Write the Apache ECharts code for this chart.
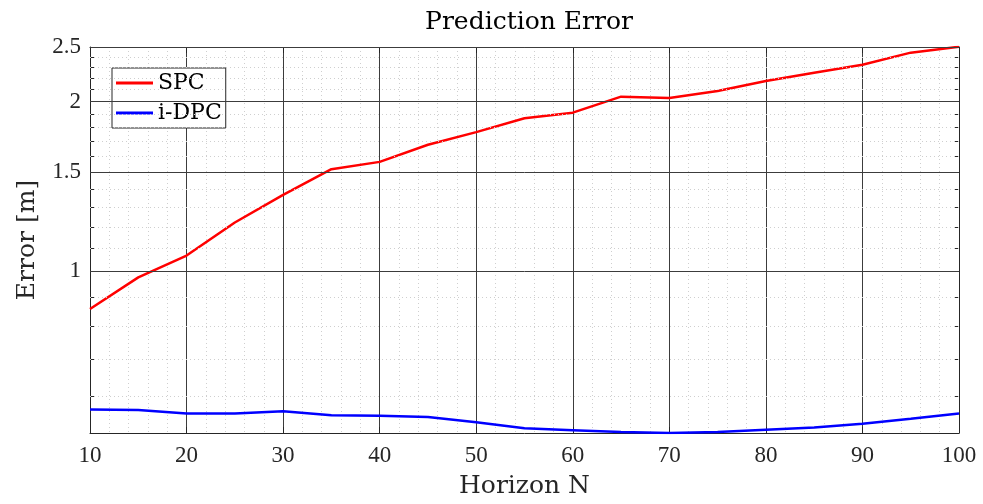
<!DOCTYPE html>
<html>
<head>
<meta charset="utf-8">
<script src="https://cdn.jsdelivr.net/npm/echarts@6/dist/echarts.min.js"></script>
<style>html,body{margin:0;padding:0;background:#fff}#c{width:983px;height:504px}</style>
</head>
<body>
<div id="c"></div>
<script>
const horizon = [10,15,20,25,30,35,40,45,50,55,60,65,70,75,80,85,90,95,100];
const spc  = [0.858,0.976,1.067,1.221,1.367,1.518,1.564,1.677,1.766,1.869,1.912,2.041,2.030,2.089,2.176,2.251,2.326,2.443,2.502];
const idpc = [0.569,0.568,0.560,0.560,0.565,0.556,0.555,0.552,0.540,0.527,0.523,0.519,0.517,0.519,0.524,0.529,0.537,0.548,0.560];
const yMajor = [1, 1.5, 2, 2.5];
const yMinor = [0.6,0.7,0.8,0.9,1.1,1.2,1.3,1.4,1.6,1.7,1.8,1.9,2.1,2.2,2.3,2.4];
const yMin = 0.517, yMax = 2.5;

const FONT = 'Liberation Serif';
const TFONT = 'DejaVu Serif';
const chart = echarts.init(document.getElementById('c'), null, {renderer: 'canvas'});

const allTicks = yMajor.concat(yMinor);
function yAx(pos, showLabel) {
  return {
    type: 'log', position: pos, min: yMin, max: yMax, logBase: 10,
    name: showLabel ? 'Error [m]' : '', nameLocation: 'middle', nameGap: 50,
    nameTextStyle: {fontFamily: TFONT, fontSize: 25, color: '#262626'},
    axisLine: {show: true, lineStyle: {color: '#262626', width: 1}},
    axisTick: {show: true, inside: true, length: 5, customValues: allTicks, lineStyle: {color: '#262626'}},
    axisLabel: {show: showLabel, customValues: yMajor, fontFamily: FONT, fontSize: 23, color: '#262626', margin: 9,
      formatter: v => String(Math.round(v * 10) / 10)},
    splitLine: {show: false}, minorTick: {show: false}, minorSplitLine: {show: false}
  };
}
function xAx(pos, showLabel) {
  return {
    type: 'value', position: pos, min: 10, max: 100, interval: 10,
    name: showLabel ? 'Horizon N' : '', nameLocation: 'middle', nameGap: 41,
    nameTextStyle: {fontFamily: TFONT, fontSize: 25, color: '#262626'},
    axisLine: {show: true, onZero: false, lineStyle: {color: '#262626', width: 1}},
    axisTick: {show: true, inside: true, length: 6, lineStyle: {color: '#262626'}},
    axisLabel: {show: showLabel, fontFamily: FONT, fontSize: 23, color: '#262626', margin: 11},
    splitLine: {show: showLabel, lineStyle: {color: '#3c3c3c', width: 1}},
    minorTick: {show: false, splitNumber: 5},
    minorSplitLine: {show: showLabel, lineStyle: {color: '#cfcfcf', type: [1, 3], width: 1}}
  };
}

const minorLines = yMinor.map(v => ({yAxis: v}));
const majorLines = yMajor.map(v => ({yAxis: v}));

chart.setOption({
  animation: false,
  backgroundColor: '#fff',
  title: {text: 'Prediction Error', left: 524, top: 5, textAlign: 'center',
    textStyle: {fontFamily: TFONT, fontSize: 25, fontWeight: 'normal', color: '#000'}},
  grid: {left: 90, top: 47, width: 869, height: 386, containLabel: false},
  legend: {
    data: [{name: 'SPC', icon: 'rect'}, {name: 'i-DPC', icon: 'rect'}],
    orient: 'vertical', left: 112, top: 68,
    backgroundColor: '#fff', borderColor: '#262626', borderWidth: 1,
    padding: [3, 4, 3, 4], itemGap: 6, itemWidth: 37, itemHeight: 3,
    textStyle: {fontFamily: TFONT, fontSize: 22, color: '#000', lineHeight: 24}
  },
  xAxis: [xAx('bottom', true), xAx('top', false)],
  yAxis: [yAx('left', true), yAx('right', false)],
  series: [
    {name: 'grid', type: 'line', data: [], silent: true,
     markLine: {silent: true, symbol: 'none', label: {show: false}, animation: false,
       lineStyle: {color: '#cfcfcf', type: [1, 3], width: 1}, data: minorLines}},
    {name: 'gridMajor', type: 'line', data: [], silent: true,
     markLine: {silent: true, symbol: 'none', label: {show: false}, animation: false,
       lineStyle: {color: '#3c3c3c', type: 'solid', width: 1}, data: majorLines}},
    {name: 'SPC', type: 'line', symbol: 'none', data: horizon.map((h, i) => [h, spc[i]]),
     lineStyle: {color: '#ff0000', width: 2.5}, itemStyle: {color: '#ff0000'}},
    {name: 'i-DPC', type: 'line', symbol: 'none', data: horizon.map((h, i) => [h, idpc[i]]),
     lineStyle: {color: '#0000ff', width: 2.5}, itemStyle: {color: '#0000ff'}}
  ]
});
</script>
</body>
</html>
